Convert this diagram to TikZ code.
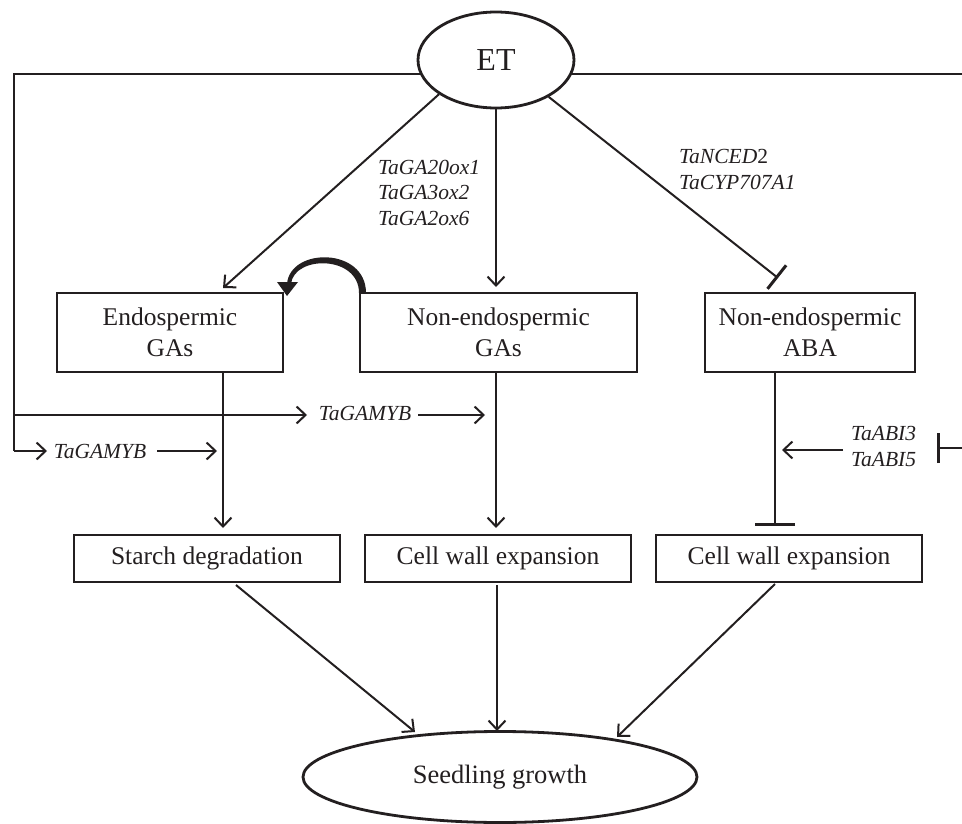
\documentclass[tikz,border=0pt]{standalone}
\usepackage{fontspec}
\setmainfont{Liberation Serif}
\usetikzlibrary{arrows.meta,shapes.geometric,calc}
\definecolor{ink}{RGB}{35,31,32}
\begin{document}
\begin{tikzpicture}[x=1pt,y=-1pt,color=ink,
 box/.style={draw=ink,line width=1.6pt,align=center,inner sep=0pt,font=\fontsize{25.5}{31}\selectfont},
 lab/.style={inner sep=0pt,align=left,font=\fontsize{21.5}{25.5}\selectfont\itshape},
 conn/.style={line width=2pt,draw=ink},
 thickline/.style={line width=2.8pt,draw=ink},
 arr/.style={conn,-{Straight Barb[length=9pt,width=17pt,line width=2pt]}},
 inh/.style={conn,-{Bar[width=30pt,line width=3pt]}},
 inhwide/.style={conn,-{Bar[width=40pt,line width=3.2pt]}},
]
\useasboundingbox (0,0) rectangle (962,824);
% outer lines from ET
\coordinate (Ltop) at (14,74);
\coordinate (Lmid) at (14,415);
\coordinate (Lbot) at (14,451);
\coordinate (Rtop) at (962,74);
\draw[thickline,line join=miter] (Rtop) -- (Ltop) -- (Lbot);
\node[draw=ink,fill=white,ellipse,line width=2.8pt,minimum width=156pt,minimum height=96pt,inner sep=0pt,font=\fontsize{32}{36}\selectfont] (et) at (496,60) {ET};

% boxes
\node[box,minimum width=226pt,minimum height=79pt] (endo) at (170,332.5) {Endospermic\\GAs};
\node[box,minimum width=277pt,minimum height=79pt] (nendo) at (498.5,332.5) {Non-endospermic\\GAs};
\node[box,minimum width=210pt,minimum height=79pt] (aba) at (810,332.5) {Non-endospermic\\ABA};
\node[box,minimum width=266pt,minimum height=47pt] (starch) at (207,558.5) {Starch degradation};
\node[box,minimum width=266pt,minimum height=47pt] (cw1) at (498,558.5) {Cell wall expansion};
\node[box,minimum width=266pt,minimum height=47pt] (cw2) at (789,558.5) {Cell wall expansion};
\node[draw=ink,ellipse,line width=2.8pt,minimum width=394pt,minimum height=91pt,inner sep=0pt,font=\fontsize{26.5}{30}\selectfont] (seed) at (500,777) {Seedling growth};

% labels
\node[lab,anchor=west] (gal) at (378,192.5) {TaGA20ox1\\TaGA3ox2\\TaGA2ox6};
\node[lab,anchor=west] (ncl) at (679,169.5) {TaNCED\textup{2}\\TaCYP707A1};
\node[lab] (g1) at (365,413) {TaGAMYB};
\node[lab] (g2) at (100,451) {TaGAMYB};
\node[lab,anchor=west] (abi) at (851,446.5) {TaABI3\\TaABI5};

% ET connectors
\coordinate (endoIn) at (223,288);
\coordinate (nendoIn) at (496,287);
\coordinate (abaBar) at (778,278);
\draw[arr] (et.211) -- (endoIn);
\draw[arr] (et.south) -- (nendoIn);
\draw[inh] (et.325) -- (abaBar);

% curved feedback arrow
\fill[ink] (366,293) .. controls (366,247) and (290,247) .. (287,284)
  -- (291,284) .. controls (294,255) and (359,255) .. (359,293) -- cycle;
\fill[ink] (277,282) -- (298,282) -- (287,296) -- cycle;

% vertical connectors
\coordinate (starchIn) at (223,528);
\coordinate (cw1In) at (496,528);
\coordinate (cw2Bar) at (775,526);
\draw[arr] (endo.south -| starchIn) -- (starchIn);
\draw[arr] (nendo.south -| cw1In) -- (cw1In);
\draw[inhwide] (aba.south -| cw2Bar) -- (cw2Bar);

% TaGAMYB branches
\coordinate (g1a) at (307,415);
\coordinate (g1b) at (418,415);
\coordinate (g1c) at (485,415);
\draw[arr] (Lmid) -- (g1a);
\draw[arr] (g1b) -- (g1c);
\coordinate (g2a) at (47,451);
\coordinate (g2b) at (157,451);
\coordinate (g2c) at (217,451);
\draw[arr] (Lbot) -- (g2a);
\draw[arr] (g2b) -- (g2c);

% TaABI
\coordinate (abiA) at (843,450);
\coordinate (abiB) at (782,450);
\draw[arr] (abiA) -- (abiB);
\coordinate (Rabi) at (962,448);
\coordinate (abiBar) at (937,448);
\draw[inh] (Rabi) -- (abiBar);

% to seedling growth
\coordinate (s1) at (236,585);
\coordinate (s2) at (497,585);
\coordinate (s3) at (775,584);
\coordinate (t1) at (415,732);
\coordinate (t2) at (497,731);
\coordinate (t3) at (617,737);
\draw[arr] (s1) -- (t1);
\draw[arr] (s2) -- (t2);
\draw[arr] (s3) -- (t3);
\end{tikzpicture}
\end{document}
